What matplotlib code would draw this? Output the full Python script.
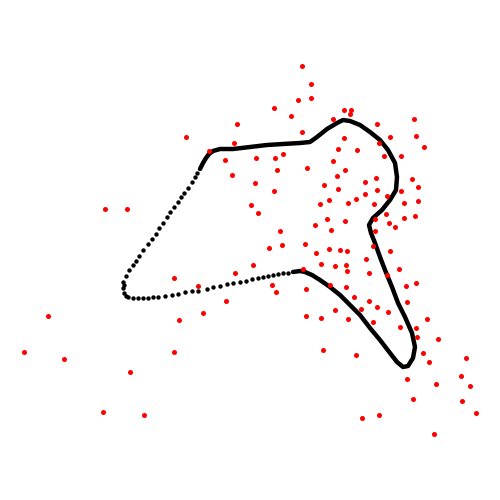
import numpy as np
import matplotlib
matplotlib.use("Agg")
from matplotlib import pyplot as plt

# closed outline, image pixel coords (x right, y down)
# dense stretch: top edge, right lobe, lower arm
dense_x = [200, 203, 206, 209, 213, 220, 233, 250, 267, 283, 300, 310, 317, 327, 337, 343,
           350, 360, 370, 380, 388, 395, 397, 396, 390, 382, 373, 369, 371, 375, 380,
           385, 392, 398, 405, 412, 415, 413, 408, 403, 397, 390, 380, 370, 360, 350,
           340, 330, 320, 312, 305, 300, 293]
dense_y = [169, 163, 158, 154, 151, 149, 149, 147, 145, 144, 143, 142, 137, 129, 123, 120,
           121, 125, 132, 140, 150, 163, 177, 190, 200, 210, 218, 225, 233, 243, 257,
           270, 287, 303, 317, 333, 347, 358, 366, 367, 362, 353, 340, 328, 315, 305,
           295, 287, 280, 275, 272, 271, 272]

# sparse stretch: bottom edge, left bend, left diagonal
sparse_x = [288, 283, 278, 273, 268, 263, 258, 252, 246, 240, 233, 227, 220, 213, 207,
            198, 192, 185, 178, 172, 165, 158, 153, 148, 143, 138, 133, 128, 126, 124,
            123, 123, 124, 126, 129, 133, 136, 139, 143, 148, 152, 156, 159, 163, 167,
            170, 174, 178, 181, 184, 188, 192, 195, 197]
sparse_y = [273, 273, 274, 275, 276, 277, 278, 279, 281, 282, 283, 284, 286, 287, 289,
            291, 291, 292, 294, 295, 296, 297, 297, 298, 298, 298, 298, 297, 296, 293,
            288, 282, 285, 276, 270, 265, 261, 256, 250, 244, 239, 234, 228, 223, 217,
            212, 207, 202, 197, 193, 188, 182, 177, 173]

red_x = [237, 186, 234, 209, 225, 232, 105, 127,
         302, 311, 311, 298, 274, 291, 344, 351, 350, 333, 377, 414, 302, 344, 390, 416,
         424, 338, 357, 379, 256, 275, 283, 384, 401, 333, 277, 307, 345, 337, 376, 412,
         255, 324, 365, 418, 338, 377, 274, 401, 365, 387, 320, 329, 348, 356, 374, 404,
         418, 251, 258, 386, 415, 327, 345, 375, 389, 395, 404, 315, 280, 331, 375, 282,
         305, 269, 329, 340, 347, 390, 373,
         316, 253, 321, 335, 346, 366, 347, 369, 387, 399, 303, 272, 276, 306, 330, 346,
         406, 416, 354, 369, 377, 335, 388, 407, 361, 306, 321, 348, 373, 400, 427, 416,
         417, 438, 323, 356, 423, 429, 466, 407, 436, 461, 470, 413, 462, 476, 379, 362,
         434,
         174, 235, 198, 226, 203, 179, 48, 24, 64, 174, 130, 103, 144]
red_y = [124, 137, 143, 151, 160, 175, 209, 209,
         66, 84, 98, 100, 108, 116, 110, 110, 114, 119, 124, 119, 132, 138, 137, 136,
         147, 149, 150, 143, 158, 158, 154, 156, 156, 161, 170, 168, 170, 176, 178, 179,
         183, 185, 182, 187, 189, 190, 191, 191, 194, 196, 204, 200, 203, 199, 204, 203,
         201, 205, 213, 214, 216, 219, 221, 219, 223, 227, 218, 225, 231, 230, 231, 245,
         244, 248, 249, 250, 251, 251, 246,
         253, 265, 264, 266, 265, 259, 271, 273, 275, 269, 269, 285, 292, 289, 285, 287,
         286, 283, 297, 301, 307, 310, 312, 302, 309, 316, 318, 319, 322, 327, 319, 328,
         337, 339, 350, 355, 353, 362, 358, 379, 384, 376, 386, 399, 401, 413, 415, 418,
         434,
         278, 273, 286, 301, 313, 320, 316, 352, 359, 352, 372, 412, 415]

fig = plt.figure(figsize=(5, 5), dpi=100)
ax = fig.add_axes([0, 0, 1, 1])

ax.plot(dense_x, dense_y, color='black', lw=3.2, solid_capstyle='round',
        solid_joinstyle='round', zorder=2)
ax.scatter(sparse_x, sparse_y, s=10, c='black', linewidths=0, zorder=2)
ax.scatter(red_x, red_y, s=13, c='red', linewidths=0, zorder=3)

ax.set_xlim(0, 500)
ax.set_ylim(500, 0)
ax.axis('off')

fig.savefig('out.png', dpi=100)
